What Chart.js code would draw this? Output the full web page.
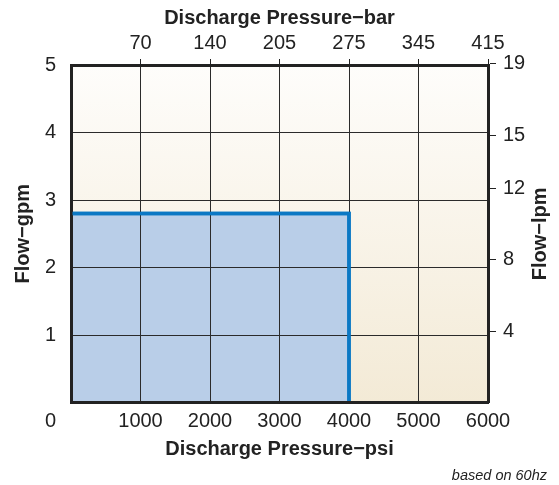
<!DOCTYPE html>
<html>
<head>
<meta charset="utf-8">
<script src="https://cdn.jsdelivr.net/npm/chart.js@4.4.1/dist/chart.umd.min.js"></script>
<style>
  html, body { margin: 0; padding: 0; background: #fff; }
  #wrap { width: 559px; height: 485px; }
</style>
</head>
<body>
<div id="wrap"><canvas id="pumpChart" width="559" height="485"></canvas></div>
<script>
// operating envelope (psi vs gpm)
const envelopePsi = [0, 4000, 4000];
const envelopeGpm = [2.8, 2.8, 0];

// axis ticks
const psiTicks = [1000, 2000, 3000, 4000, 5000, 6000];
const barLabels = ["70", "140", "205", "275", "345", "415"];
const gpmTicks = [1, 2, 3, 4, 5];
const lpmTicks = [4, 8, 12, 15, 19];

const PSI_MAX = 6000;
const GPM_MAX = 5;
const LPM_PER_GPM = 3.785;

const FONT = "'Liberation Sans', Arial, Helvetica, sans-serif";
const INK = "#222222";

Chart.defaults.font.family = FONT;
Chart.defaults.color = INK;

const points = envelopePsi.map((p, i) => ({ x: p, y: envelopeGpm[i] }));

// cream gradient behind the plot
const plotBackground = {
    id: "plotBackground",
    beforeDraw(chart) {
        const { ctx, chartArea: a } = chart;
        const g = ctx.createLinearGradient(0, a.top, 0, a.bottom);
        g.addColorStop(0, "#fefdfb");
        g.addColorStop(1, "#f3ead6");
        ctx.save();
        ctx.fillStyle = g;
        ctx.fillRect(a.left, a.top, a.right - a.left, a.bottom - a.top);
        ctx.restore();
    }
};

// put the blue outline back on top of the grid, plus the odd texts
const extras = {
    id: "extras",
    afterDraw(chart) {
        const { ctx, chartArea: a } = chart;
        ctx.save();
        ctx.beginPath();
        ctx.rect(a.left + 1.5, a.top, a.right - a.left - 1.5, a.bottom - a.top - 1.5);
        ctx.clip();
        chart.getDatasetMeta(0).dataset.draw(ctx);
        ctx.restore();

        ctx.save();
        ctx.fillStyle = INK;
        // corner zero
        ctx.font = "20px " + FONT;
        ctx.textAlign = "right";
        ctx.textBaseline = "middle";
        ctx.fillText("0", chart.scales.y.right - 15, chart.scales.x.top + 7 + 12);
        // right axis title, reads bottom to top
        ctx.translate(540, (a.top + a.bottom) / 2);
        ctx.rotate(-Math.PI / 2);
        ctx.font = "bold 20px " + FONT;
        ctx.textAlign = "center";
        ctx.fillText("Flow\u2212lpm", 0, 0);
        ctx.restore();
    }
};

const tickFont = { size: 20 };
const titleFont = { size: 20, weight: "bold" };

const config = {
    type: "line",
    data: {
        datasets: [
            {
                data: points,
                borderColor: "#0b78c4",
                borderWidth: 3.5,
                backgroundColor: "#b9cee8",
                fill: "origin",
                pointRadius: 0,
                tension: 0,
                borderJoinStyle: "miter",
                borderCapStyle: "butt"
            }
        ]
    },
    options: {
        responsive: false,
        animation: false,
        events: [],
        layout: { padding: { left: 0, right: 12, top: 0, bottom: 0 } },
        plugins: {
            legend: { display: false },
            tooltip: { enabled: false },
            subtitle: {
                display: true,
                text: "based on 60hz",
                position: "bottom",
                align: "end",
                color: INK,
                font: { size: 14.5, style: "italic" },
                padding: { top: 0, bottom: 0 }
            }
        },
        scales: {
            x: {
                type: "linear",
                position: "bottom",
                min: 0,
                max: PSI_MAX,
                afterBuildTicks: s => { s.ticks = psiTicks.map(v => ({ value: v })); },
                afterFit: s => { s.height = 65; },
                ticks: {
                    font: tickFont,
                    padding: 7,
                    maxRotation: 0,
                    autoSkip: false,
                    callback: v => String(v)
                },
                grid: { color: "#2b2b2b", lineWidth: 1, drawTicks: false, z: 1 },
                border: { display: true, color: INK, width: 3, z: 2 },
                title: { display: true, text: "Discharge Pressure\u2212psi", font: titleFont, padding: { top: 0, bottom: 6 } }
            },
            x2: {
                type: "linear",
                position: "top",
                min: 0,
                max: PSI_MAX,
                afterBuildTicks: s => { s.ticks = psiTicks.map(v => ({ value: v })); },
                afterFit: s => { s.height = 65; },
                ticks: {
                    font: tickFont,
                    padding: 4,
                    maxRotation: 0,
                    autoSkip: false,
                    callback: (v, i) => barLabels[i]
                },
                grid: { drawOnChartArea: false, drawTicks: true, tickLength: 6, color: INK, lineWidth: 1 },
                border: { display: true, color: INK, width: 3, z: 2 },
                title: { display: true, text: "Discharge Pressure\u2212bar", font: titleFont, padding: { top: 6, bottom: 0 } }
            },
            y: {
                type: "linear",
                position: "left",
                min: 0,
                max: GPM_MAX,
                afterBuildTicks: s => { s.ticks = gpmTicks.map(v => ({ value: v })); },
                afterFit: s => { s.width = 71; },
                ticks: { font: tickFont, padding: 15 },
                grid: { color: "#2b2b2b", lineWidth: 1, drawTicks: false, z: 1 },
                border: { display: true, color: INK, width: 3, z: 2 },
                title: { display: true, text: "Flow\u2212gpm", font: titleFont, padding: { top: 11, bottom: 0 } }
            },
            y2: {
                type: "linear",
                position: "right",
                min: 0,
                max: GPM_MAX * LPM_PER_GPM,
                afterBuildTicks: s => { s.ticks = lpmTicks.map(v => ({ value: v })); },
                afterFit: s => { s.width = 59; },
                ticks: { font: tickFont, padding: 7 },
                grid: { drawOnChartArea: false, drawTicks: true, tickLength: 8, color: INK, lineWidth: 1 },
                border: { display: true, color: INK, width: 3, z: 2 }
            }
        }
    },
    plugins: [plotBackground, extras]
};

const pumpChart = new Chart("pumpChart", config);
</script>
</body>
</html>
